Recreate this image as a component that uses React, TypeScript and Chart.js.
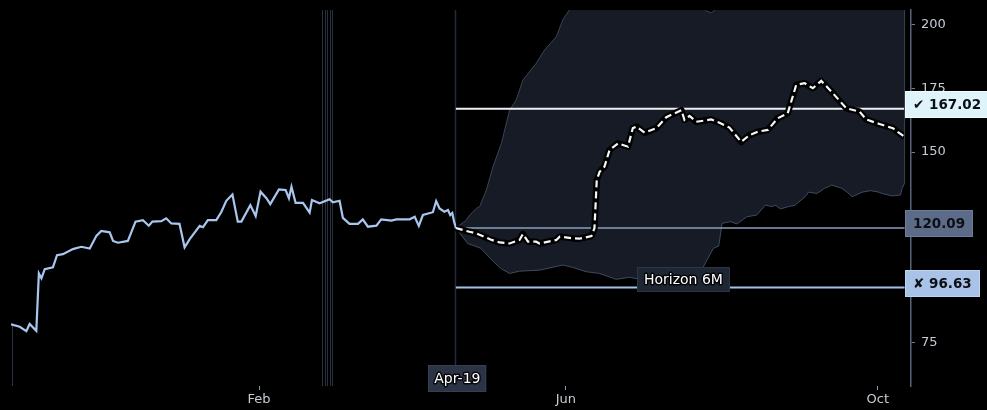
import React, { useEffect, useRef } from 'react';
import { Chart, registerables } from 'chart.js';

Chart.register(...registerables);

// Days are counted from Feb 1
const X_MIN = -97;
const X_MAX = 255;
const Y_MIN = 57.9;
const Y_MAX = 205.9;

const X_TICK_DAYS = [0, 120, 242];
const X_TICK_LABELS = ['Feb', 'Jun', 'Oct'];
const Y_TICKS = [75, 100, 125, 150, 175, 200];
const Y_TICKS_SHOWN = [75, 150, 175, 200];

const HIST_DAYS = [
  -97, -93.6, -91.0, -89.7, -87.1, -86.1, -85.1, -83.8, -80.6, -79.0, -76.7, -72.8, -69.5, -66.2,
  -63.6, -61.7, -58.4, -57.1, -55.2, -51.3, -48.3, -45.4, -43.1, -41.7, -38.2, -36.3, -34.3, -31.1,
  -29.1, -27.1, -23.2, -21.9, -20.0, -16.7, -14.7, -12.8, -10.4, -8.3, -6.9, -3.4, -1.3, 0.6, 2.9,
  4.4, 7.8, 10.4, 11.7, 12.7, 14.3, 17.2, 19.8, 20.7, 23.7, 27.6, 28.9, 31.5, 32.8, 35.4, 38.7,
  40.6, 42.6, 45.9, 47.8, 51.7, 53.7, 58.9, 60.9, 62.5, 64.1, 68.0, 69.3, 70.6, 72.5, 73.9, 74.8,
  75.6, 76.3, 77,
];
const HIST_VALUES = [
  82.2, 81.2, 79.5, 82.3, 79.6, 102.2, 100.3, 103.9, 104.6, 109.4, 109.8, 111.8, 112.7, 112,
  117, 118.9, 118.4, 115, 114.3, 115, 122.6, 123.2, 121, 122.6, 122.8, 123.9, 121.9, 121.7,
  112.5, 115.7, 120.9, 120.4, 123.2, 123.2, 126.5, 130.8, 133.3, 122.6, 122.6, 129.1, 124.8, 134.4, 131.8,
  129.5, 135.3, 135, 131.8, 136.3, 130, 130, 126.1, 131.1, 129.8, 131.4, 130.2, 130.8, 124.1, 121.7, 121.7,
  123.5, 120.6, 121, 123.5, 123, 123.5, 123.5, 124.5, 120.9, 125.2, 126.3, 130.7, 127.8, 126.5, 127.2, 125.2,
  126.0, 122.6, 120.09,
];

const FC_DAYS = [
  77, 82.3, 85.0, 91.0, 94.1, 98.0, 101.9, 103.2, 105.2, 108.4, 109.7, 116.3, 117.6, 122.8, 125.4,
  130.0, 131.2, 132.1, 133.2, 135.1, 137.1, 140.4, 144.3, 146.2, 147.6, 150.8, 155.4, 159.3, 165.2,
  166.4, 168.4, 171.0, 176.9, 180.1, 184.0, 188.6, 191.9, 195.1, 199.0, 202.9, 206.8, 210.1, 213.4,
  216.6, 219.9, 224.4, 229.7, 234.9, 237.5, 242.7, 247.9, 250.5, 252.5,
];
const FC_VALUES = [
  120.09, 118.6, 118, 115.4, 114.4, 114.0, 115.4, 117.7, 114.7, 114.7, 114, 115.4, 116.7, 116.0, 115.9,
  116.9, 120, 139, 142.2, 144.2, 150.8, 153.4, 152.1, 159.4, 160, 157.6, 159.4, 163.7, 166.5,
  162.6, 164.2, 161.9, 162.8, 161.5, 159.6, 154, 156.7, 158, 158.7, 163.3, 165.3, 176.4, 177.1,
  175.1, 178, 173.2, 167.2, 165.9, 162.8, 161, 159.4, 157.4, 156,
];

const UPPER_DAYS = [
  77, 81.1, 82.4, 85.0, 86.3, 88.9, 91.5, 94.8, 98.0, 100.6, 103.2, 108.4, 111.7, 116.3, 118.8,
  122.1, 125.4, 141, 164.5, 172.3, 175, 177, 179.4, 188, 211.5, 234.9, 252.5,
];
const UPPER_VALUES = [
  120.09, 123.2, 125.2, 127.8, 128.5, 135, 144.2, 153.4, 166.5, 170.5, 178.3, 184.9, 190.2, 195.4, 202,
  207, 212, 218, 215, 210, 205.5, 204.8, 207, 214, 222, 225, 226,
];

const LOWER_DAYS = [
  77, 81.6, 86.8, 90.5, 94.5, 98.0, 101.9, 109.7, 118.8, 122.7, 127.9, 133.2, 139.7, 144.9,
  148.8, 155, 162, 167, 170.5, 173.1, 177.7, 179.8, 181.1, 184.3, 186.9, 190.8, 194.7, 198.0,
  200.6, 201.9, 203.9, 207.1, 209.7, 213.6, 214.9, 218.2, 221.2, 224.0, 228.0, 230.0, 232.0,
  235.9, 239.2, 242.4, 243.7, 247.6, 250.9, 251.5, 252.5,
];
const LOWER_VALUES = [
  120.09, 114, 112.1, 108, 104.2, 102.2, 103.1, 103.5, 105.5, 104.6, 102.9, 102.2, 99.9, 100.7,
  99.9, 98.5, 97.5, 97.8, 99.0, 103.5, 112.1, 113, 121.9, 122.6, 121.7, 124.5, 125.2, 129.1,
  128.5, 129.1, 127.6, 128.5, 129.1, 132.4, 134.2, 133.7, 135.7, 137, 135.7, 134.2, 132.4,
  134.2, 134.8, 134.2, 133.7, 132.7, 133.1, 135.7, 137.7,
];

const START_DAY = 77;
const END_DAY = 252.5;
const START_LABEL = 'Apr-19';
const HORIZON_LABEL = 'Horizon 6M';
const HORIZON_DAY = 166;
const EVENT_DAYS = [24.6, 25.7, 26.6, 27.6, 28.5];

const LEVEL_VALUES = [167.02, 120.09, 96.63];
const LEVEL_TEXTS = ['\u2714 167.02', '120.09', '\u2718 96.63'];

const FONT = '"DejaVu Sans", sans-serif';

const LEVEL_LINE_COLORS = ['#eef1f4', '#8b9fbd', '#a6c1e8'];
const LEVEL_BOX_COLORS = ['#dff3fb', '#5b6b88', '#a9c3e8'];
const LEVEL_BOX_BORDERS = ['#f4fbff', '#6d7d99', '#bcd3f2'];

const pts = (xs: number[], ys: number[]) => xs.map((x, i) => ({ x, y: ys[i] }));

function drawTextBox(
  ctx: CanvasRenderingContext2D,
  text: string,
  cx: number,
  cy: number,
  h: number,
  padX: number,
  bg: string,
  border: string,
) {
  ctx.save();
  ctx.font = `14px ${FONT}`;
  const w = ctx.measureText(text).width + padX * 2;
  const x = Math.round(cx - w / 2);
  const y = Math.round(cy - h / 2);
  ctx.fillStyle = bg;
  ctx.fillRect(x, y, w, h);
  ctx.strokeStyle = border;
  ctx.lineWidth = 1;
  ctx.strokeRect(x + 0.5, y + 0.5, w - 1, h - 1);
  ctx.textAlign = 'center';
  ctx.textBaseline = 'middle';
  ctx.lineJoin = 'round';
  ctx.strokeStyle = 'rgba(0,0,0,0.85)';
  ctx.lineWidth = 3;
  ctx.strokeText(text, cx, cy + 1);
  ctx.fillStyle = '#ffffff';
  ctx.fillText(text, cx, cy + 1);
  ctx.restore();
}

const overlayPlugin = {
  id: 'overlay',
  beforeDatasetsDraw(chart: any) {
    const { ctx, chartArea, scales } = chart;
    const xs = scales.x;
    const ys = scales.y;
    ctx.save();
    // event markers
    ctx.strokeStyle = '#283140';
    ctx.lineWidth = 1;
    EVENT_DAYS.forEach((d) => {
      const x = Math.round(xs.getPixelForValue(d)) + 0.5;
      ctx.beginPath();
      ctx.moveTo(x, chartArea.top);
      ctx.lineTo(x, chartArea.bottom);
      ctx.stroke();
    });
    // start-of-history drop line
    const x0 = Math.round(xs.getPixelForValue(HIST_DAYS[0])) + 1.5;
    ctx.strokeStyle = '#2a3342';
    ctx.beginPath();
    ctx.moveTo(x0, ys.getPixelForValue(HIST_VALUES[0]));
    ctx.lineTo(x0, chartArea.bottom);
    ctx.stroke();
    // forecast start line
    const xs0 = Math.round(xs.getPixelForValue(START_DAY)) - 0.5;
    ctx.strokeStyle = '#222b38';
    ctx.lineWidth = 1.5;
    ctx.beginPath();
    ctx.moveTo(xs0, chartArea.top);
    ctx.lineTo(xs0, chartArea.bottom);
    ctx.stroke();
    ctx.restore();
  },
  afterDatasetsDraw(chart: any) {
    const { ctx, chartArea, scales } = chart;
    const xs = scales.x;
    const ys = scales.y;
    ctx.save();
    ctx.beginPath();
    ctx.rect(chartArea.left, chartArea.top, chartArea.right - chartArea.left, chartArea.bottom - chartArea.top);
    ctx.clip();
    // right edge of the band
    const xe = xs.getPixelForValue(END_DAY);
    ctx.strokeStyle = '#3a4557';
    ctx.lineWidth = 1;
    ctx.beginPath();
    ctx.moveTo(xe, ys.getPixelForValue(UPPER_VALUES[UPPER_VALUES.length - 1]));
    ctx.lineTo(xe, ys.getPixelForValue(LOWER_VALUES[LOWER_VALUES.length - 1]));
    ctx.stroke();
    ctx.restore();
  },
  afterDraw(chart: any) {
    const { ctx, chartArea, scales } = chart;
    const xs = scales.x;
    const ys = scales.y;
    ctx.save();
    // level boxes on the right
    const bx = Math.round(xs.getPixelForValue(END_DAY));
    ctx.font = `bold 13.5px ${FONT}`;
    LEVEL_VALUES.forEach((v, i) => {
      const y = ys.getPixelForValue(v);
      const text = LEVEL_TEXTS[i];
      const w = Math.round(ctx.measureText(text).width + 16);
      const top = Math.round(y - 18);
      ctx.fillStyle = LEVEL_BOX_COLORS[i];
      ctx.fillRect(bx, top, w, 27);
      ctx.strokeStyle = LEVEL_BOX_BORDERS[i];
      ctx.lineWidth = 1;
      ctx.strokeRect(bx + 0.5, top + 0.5, w - 1, 26);
      ctx.fillStyle = '#0c1016';
      ctx.textAlign = 'left';
      ctx.textBaseline = 'middle';
      ctx.fillText(text, bx + 8, top + 14);
    });
    ctx.restore();
    // horizon label
    drawTextBox(ctx, HORIZON_LABEL, xs.getPixelForValue(HORIZON_DAY), ys.getPixelForValue(LEVEL_VALUES[2]) - 8, 25, 7, '#1e2633', '#2b3543');
    // start date label
    drawTextBox(ctx, START_LABEL, xs.getPixelForValue(START_DAY) + 1.5, chartArea.bottom - 7.5, 27, 6, '#2a3444', '#354052');
  },
};

export default function App() {
  const ref = useRef<HTMLCanvasElement | null>(null);

  useEffect(() => {
    const canvas = ref.current;
    if (!canvas) return;
    const levelSets = LEVEL_VALUES.map((v, i) => ({
      label: `level${i}`,
      data: pts([START_DAY, END_DAY], [v, v]),
      borderColor: LEVEL_LINE_COLORS[i],
      borderWidth: i === 1 ? 1.6 : 2,
      pointRadius: 0,
      fill: false,
      order: 6,
    }));
    const chart = new Chart(canvas, {
      type: 'line',
      data: {
        datasets: [
          { label: 'upper', data: pts(UPPER_DAYS, UPPER_VALUES), borderColor: '#3a4557', borderWidth: 1, backgroundColor: '#161b25', fill: '+1', pointRadius: 0, tension: 0, order: 10 },
          { label: 'lower', data: pts(LOWER_DAYS, LOWER_VALUES), borderColor: '#3f4b60', borderWidth: 1, fill: false, pointRadius: 0, tension: 0, order: 9 },
          ...levelSets,
          { label: 'history', data: pts(HIST_DAYS, HIST_VALUES), borderColor: '#a8c6ee', borderWidth: 2.2, pointRadius: 0, fill: false, tension: 0, order: 4 },
          { label: 'forecastOutline', data: pts(FC_DAYS, FC_VALUES), borderColor: '#000000', borderWidth: 6.5, pointRadius: 0, fill: false, tension: 0, borderJoinStyle: 'round', order: 2 },
          { label: 'forecast', data: pts(FC_DAYS, FC_VALUES), borderColor: '#f4f6f8', borderWidth: 2.2, borderDash: [7, 4], pointRadius: 0, fill: false, tension: 0, order: 1 },
        ],
      },
      options: {
        animation: false,
        responsive: false,
        devicePixelRatio: 1,
        layout: { padding: { left: 11, top: 10, right: 0, bottom: 0 } },
        plugins: { legend: { display: false }, tooltip: { enabled: false } },
        scales: {
          x: {
            type: 'linear',
            min: X_MIN,
            max: X_MAX,
            afterBuildTicks: (scale: any) => {
              scale.ticks = X_TICK_DAYS.map((value) => ({ value }));
            },
            afterFit: (scale: any) => {
              scale.height = 24;
              scale.paddingLeft = 0;
              scale.paddingRight = 0;
            },
            ticks: {
              autoSkip: false,
              maxRotation: 0,
              padding: 2,
              color: '#c5ccd6',
              font: { family: FONT, size: 13 },
              callback: (v: any) => {
                const i = X_TICK_DAYS.indexOf(Number(v));
                return i >= 0 ? X_TICK_LABELS[i] : '';
              },
            },
            grid: { display: true, drawOnChartArea: false, drawTicks: true, tickLength: 4, color: '#8593a6' },
            border: { display: false },
          },
          y: {
            type: 'linear',
            position: 'right',
            min: Y_MIN,
            max: Y_MAX,
            afterBuildTicks: (scale: any) => {
              scale.ticks = Y_TICKS.map((value) => ({ value }));
            },
            afterFit: (scale: any) => {
              scale.width = 76;
              scale.paddingTop = 0;
              scale.paddingBottom = 0;
            },
            ticks: {
              autoSkip: false,
              padding: 6,
              color: '#c5ccd6',
              font: { family: FONT, size: 13 },
              callback: (v: any) => (Y_TICKS_SHOWN.includes(Number(v)) ? String(v) : ''),
            },
            grid: { display: true, drawOnChartArea: false, drawTicks: true, tickLength: 4, color: '#6f7f96' },
            border: { display: true, color: '#56657c', width: 1.5 },
          },
        },
      },
      plugins: [overlayPlugin],
    } as any);
    return () => chart.destroy();
  }, []);

  return (
    <div style={{ position: 'fixed', left: 0, top: 0, width: 987, height: 410, background: '#000' }}>
      <canvas ref={ref} width={987} height={410} style={{ display: 'block', width: 987, height: 410 }} />
    </div>
  );
}
